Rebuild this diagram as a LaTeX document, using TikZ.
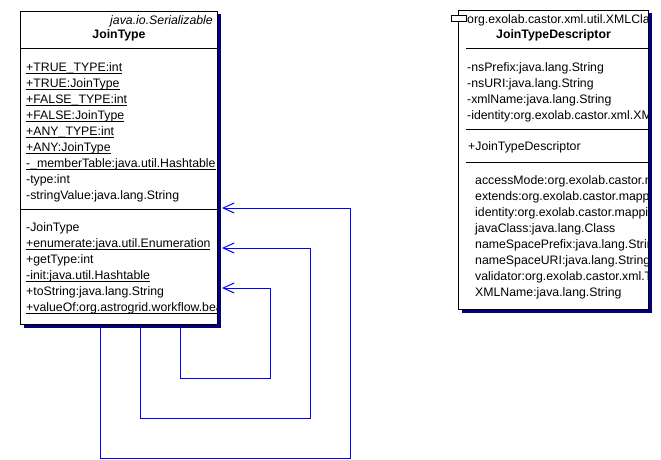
\documentclass[tikz,border=0pt]{standalone}
\usepackage{fontspec}
\setmainfont{Liberation Sans}
\usetikzlibrary{arrows.meta}
\usetikzlibrary{shadows}
\definecolor{navy}{RGB}{0,0,128}
\definecolor{assocblue}{RGB}{0,0,255}
\newcommand{\umlfont}{\fontsize{12.3}{14}\selectfont}
\newcommand{\stat}[1]{\setbox0=\hbox{#1}\rlap{\rule[-2.5pt]{\wd0}{1pt}}\box0}

\begin{document}
\begin{tikzpicture}[x=1pt,y=-1pt,
            classbox/.style={draw=black,line width=1pt,fill=white,anchor=north west,inner sep=0pt,
                drop shadow={shadow xshift=3pt,shadow yshift=-3pt,fill=navy,opacity=1}},
            member/.style={anchor=base west,inner sep=0pt,font=\umlfont},
            sep/.style={draw=black,line width=1pt},
            selfassoc/.style={draw=assocblue,line width=1pt,-{Straight Barb[length=11pt,width=10pt]}}
            ]
            \useasboundingbox (0,0) rectangle (661,460);

            % The class JoinType
            \node[classbox,minimum width=197pt,minimum height=313pt] (jt) at (20,11) {};
            \draw[sep] (jt.west |- 0,49) -- (jt.east |- 0,49);
            \draw[sep] (jt.west |- 0,209) -- (jt.east |- 0,209);
            \begin{scope}
                \clip (jt.north west) rectangle ([xshift=-0.5pt]jt.south east);
                \node[member,anchor=base east,font=\umlfont\itshape] (jtster) at (213,25) {java.io.Serializable};
                \node[member,anchor=base,font=\umlfont\bfseries] (jtname) at (jt.north |- 0,39) {JoinType};
                \foreach \txt [count=\i] in {{\stat{+TRUE\_TYPE:int}},{\stat{+TRUE:JoinType}},
                    {\stat{+FALSE\_TYPE:int}},{\stat{+FALSE:JoinType}},{\stat{+ANY\_TYPE:int}},
                    {\stat{+ANY:JoinType}},{\stat{-\_memberTable:java.util.Hashtable}},
                    -type:int,-stringValue:java.lang.String}
                    \node[member] (jtattr\i) at (26,55+16*\i) {\txt};
                \foreach \txt [count=\i] in {-JoinType,{\stat{+enumerate:java.util.Enumeration}},
                    +getType:int,{\stat{-init:java.util.Hashtable}},+toString:java.lang.String,
                    {\stat{+valueOf:org.astrogrid.workflow.bea}}}
                    \node[member] (jtop\i) at (26,215+16*\i) {\txt};
            \end{scope}

            % The class JoinTypeDescriptor
            \node[classbox,minimum width=190pt,minimum height=299pt] (jtd) at (458,10) {};
            \draw[sep] (466,49) -- (jtd.east |- 0,49);
            \draw[sep] (466,129) -- (jtd.east |- 0,129);
            \draw[sep] (466,162) -- (jtd.east |- 0,162);
            \begin{scope}
                \clip (jtd.north west) rectangle ([xshift=-0.5pt]jtd.south east);
                \node[member] (jtdster) at (467,24) {org.exolab.castor.xml.util.XMLCla};
                \node[member,anchor=base,font=\umlfont\bfseries] (jtdname) at (jtd.north |- 0,39) {JoinTypeDescriptor};
                \foreach \txt [count=\i] in {-nsPrefix:java.lang.String,-nsURI:java.lang.String,
                    -xmlName:java.lang.String,-identity:org.exolab.castor.xml.XM}
                    \node[member] (jtdattr\i) at (467,55+16*\i) {\txt};
                \node[member] (jtdop1) at (468,150) {+JoinTypeDescriptor};
                \foreach \txt [count=\i] in {accessMode:org.exolab.castor.m,extends:org.exolab.castor.mapp,
                    identity:org.exolab.castor.mappi,javaClass:java.lang.Class,
                    nameSpacePrefix:java.lang.Strin,nameSpaceURI:java.lang.String,
                    validator:org.exolab.castor.xml.T,XMLName:java.lang.String}
                    \node[member] (jtdprop\i) at (475,168+16*\i) {\txt};
            \end{scope}
            \draw[line width=1pt,fill=white] (451,16) rectangle (466,22);

            % The self associations
            \draw[selfassoc] ([shift={(80pt,-3pt)}]jt.south west) |- (350,458) |- ([xshift=4pt]jt.east |- 0,208);
            \draw[selfassoc] ([shift={(120pt,-3pt)}]jt.south west) |- (310,418) |- ([xshift=4pt]jt.east |- 0,248);
            \draw[selfassoc] ([shift={(160pt,-3pt)}]jt.south west) |- (270,378) |- ([xshift=4pt]jt.east |- 0,288);
        \end{tikzpicture}
\end{document}
